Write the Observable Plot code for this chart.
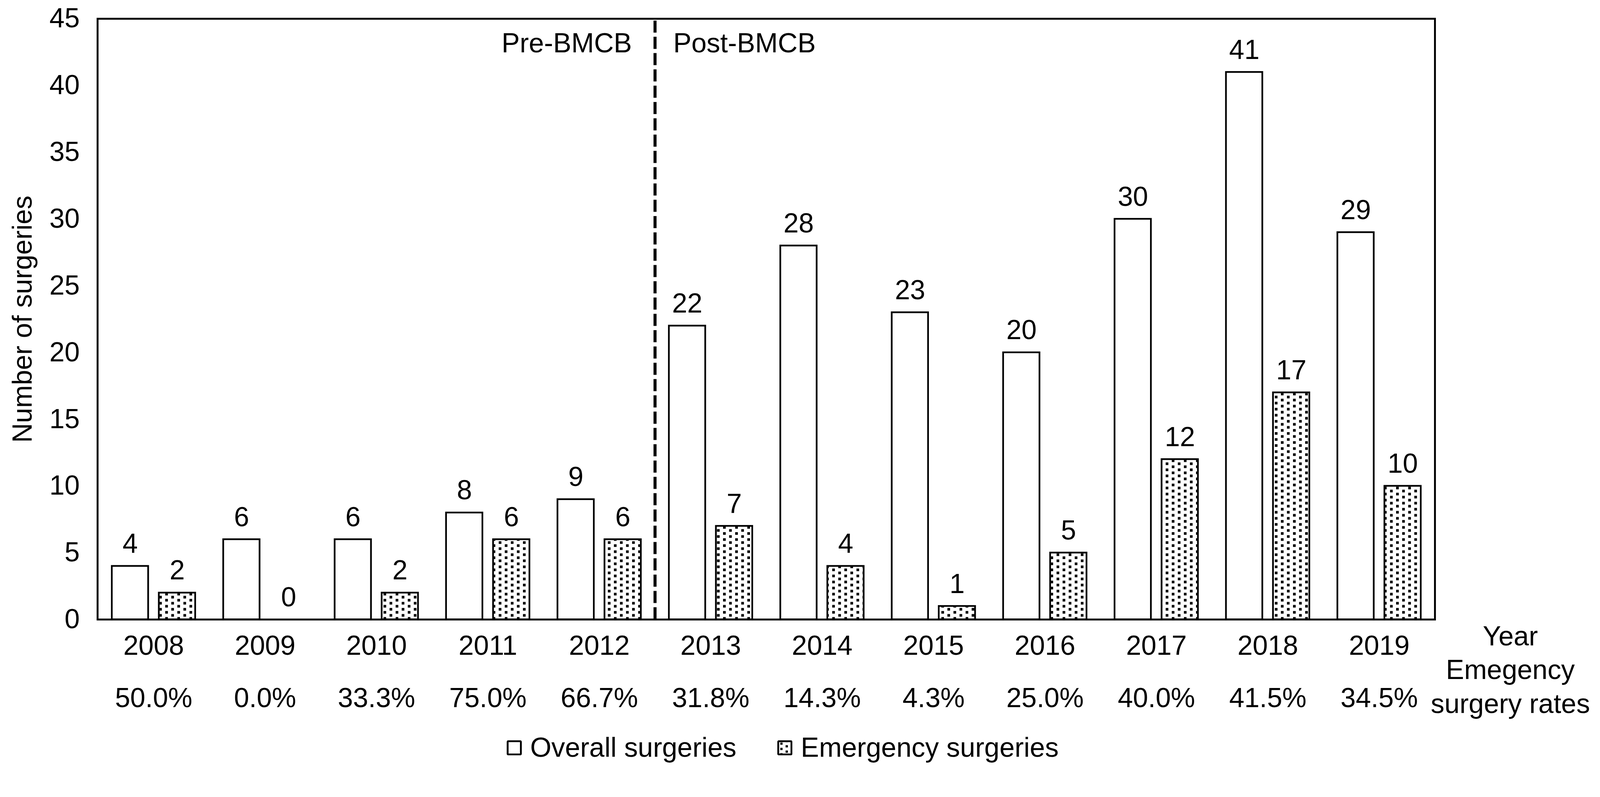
<!DOCTYPE html>
<html>
<head>
<meta charset="utf-8">
<script src="https://cdn.jsdelivr.net/npm/d3@7"></script>
<script src="https://cdn.jsdelivr.net/npm/@observablehq/plot@0.6"></script>
<style>
  html, body { margin: 0; padding: 0; background: #fff; overflow: hidden; }
  #page { width: 4222px; height: 2040px; position: relative; transform-origin: 0 0;
          font-family: "Liberation Sans", Arial, sans-serif; color: #000; background: #fff; }
  #chart svg { display: block; }
  #legend { position: absolute; left: 1337px; top: 1936px; line-height: 72px;
            font-size: 72px; white-space: nowrap; }
  #legend .item { display: inline-block; }
  #legend .item + .item { margin-left: 108px; }
  #legend svg { vertical-align: 4px; margin-right: 22px; }
</style>
</head>
<body>
<div id="page">
  <div id="chart"></div>
  <div id="legend"></div>
</div>
<script>
// ---- data ----
const years = ["2008","2009","2010","2011","2012","2013","2014","2015","2016","2017","2018","2019"];
const overallSurgeries = [4, 6, 6, 8, 9, 22, 28, 23, 20, 30, 41, 29];
const emergencySurgeries = [2, 0, 2, 6, 6, 7, 4, 1, 5, 12, 17, 10];
const emergencyRates = ["50.0%","0.0%","33.3%","75.0%","66.7%","31.8%","14.3%","4.3%","25.0%","40.0%","41.5%","34.5%"];
const yTicks = [0, 5, 10, 15, 20, 25, 30, 35, 40, 45];
const seriesNames = ["Overall surgeries", "Emergency surgeries"];
const periodLabels = ["Pre-BMCB", "Post-BMCB"];
const boundaryYear = "2013";
const yTitle = "Number of surgeries";
const rowTitle = "Year\nEmegency\nsurgery rates";

// ---- layout (design space 4222 x 2040) ----
const PW = 4222, PH = 2040;
const W = 4222, H = 1915;
const mL = 257, mR = 436, mT = 49, mB = 281;
const bw = (W - mL - mR) / years.length;     // band width
const barW = 96, outer = 37;                 // bar width, outer gap in band
const FS = 72;
const font = '"Liberation Sans", Arial, sans-serif';

const rows = years.map((y, i) => ({year: y, overall: overallSurgeries[i], emergency: emergencySurgeries[i], rate: emergencyRates[i]}));
const rateByYear = new Map(rows.map(d => [d.year, d.rate]));

const svgns = "http://www.w3.org/2000/svg";
function patternDefs() {
  const defs = document.createElementNS(svgns, "defs");
  defs.innerHTML = `<pattern id="dots" patternUnits="userSpaceOnUse" width="32" height="16">
      <rect width="32" height="16" fill="#fff"/>
      <rect x="4" y="4" width="7" height="7" fill="#000"/>
      <rect x="20" y="12" width="7" height="7" fill="#000"/>
      <rect x="20" y="-4" width="7" height="7" fill="#000"/>
    </pattern>`;
  return defs;
}

const leftCenter = outer + barW / 2 - bw / 2;          // offset of overall bar centre from band centre
const rightCenter = bw - outer - barW / 2 - bw / 2;    // offset of emergency bar centre

const chart = Plot.plot({
  width: W, height: H,
  marginLeft: mL, marginRight: mR, marginTop: mT, marginBottom: mB,
  style: {fontFamily: font, fontSize: FS + "px", color: "#000", background: "#fff", overflow: "visible"},
  x: {domain: years, padding: 0},
  y: {domain: [0, 45]},
  marks: [
    patternDefs,
    Plot.barY(rows, {x: "year", y: "overall", insetLeft: outer, insetRight: bw - outer - barW,
      fill: "#fff", stroke: "#000", strokeWidth: 4.5}),
    Plot.barY(rows, {x: "year", y: "emergency", insetLeft: bw - outer - barW, insetRight: outer,
      fill: "url(#dots)", stroke: "#000", strokeWidth: 4.5}),
    Plot.text(rows, {x: "year", y: "overall", text: d => String(d.overall), dx: leftCenter, dy: -35,
      lineAnchor: "bottom", fontSize: FS, fill: "#000"}),
    Plot.text(rows, {x: "year", y: "emergency", text: d => String(d.emergency), dx: rightCenter, dy: -35,
      lineAnchor: "bottom", fontSize: FS, fill: "#000"}),
    Plot.ruleX([boundaryYear], {dx: -bw / 2, stroke: "#000", strokeWidth: 8, strokeDasharray: "32,11", y1: 0, y2: 44.85}),
    Plot.text([periodLabels[0]], {x: [boundaryYear], frameAnchor: "top", dx: -bw / 2 - 61, dy: 38,
      textAnchor: "end", lineAnchor: "top", fontSize: FS, fill: "#000"}),
    Plot.text([periodLabels[1]], {x: [boundaryYear], frameAnchor: "top", dx: -bw / 2 + 48, dy: 38,
      textAnchor: "start", lineAnchor: "top", fontSize: FS, fill: "#000"}),
    Plot.axisY({ticks: yTicks, tickSize: 0, tickPadding: 47, fontSize: FS,
      label: yTitle, labelAnchor: "center", labelOffset: 225, labelArrow: "none"}),
    Plot.axisX({tickSize: 0, tickPadding: -6, fontSize: FS, lineHeight: 1.93, label: null,
      tickFormat: d => `${d}\n${rateByYear.get(d)}`}),
    Plot.text([rowTitle], {frameAnchor: "bottom-right", dx: 199, dy: 5, textAnchor: "middle",
      lineAnchor: "top", lineHeight: 1.236, fontSize: FS, fill: "#000"}),
    Plot.frame({stroke: "#000", strokeWidth: 5})
  ]
});
document.getElementById("chart").appendChild(chart);

// ---- legend (HTML below the SVG) ----
const legend = document.getElementById("legend");
seriesNames.forEach((name, i) => {
  const item = document.createElement("span");
  item.className = "item";
  const fill = i === 0 ? "#fff" : "url(#ldots)";
  item.innerHTML = `<svg width="40" height="40" viewBox="0 0 40 40">
      <defs><pattern id="ldots" patternUnits="userSpaceOnUse" width="28" height="14" x="8" y="6">
        <rect width="28" height="14" fill="#fff"/>
        <rect x="0" y="0" width="6" height="6" fill="#000"/>
        <rect x="14" y="7" width="6" height="6" fill="#000"/>
      </pattern></defs>
      <rect x="2.5" y="2.5" width="35" height="35" rx="2" fill="${fill}" stroke="#000" stroke-width="5"/>
    </svg>${name}`;
  legend.appendChild(item);
});

// fit the design space to the actual viewport
function fit() {
  const k = Math.min(window.innerWidth / PW, window.innerHeight / PH);
  document.getElementById("page").style.transform = `scale(${k})`;
}
fit();
window.addEventListener("resize", fit);
</script>
</body>
</html>
